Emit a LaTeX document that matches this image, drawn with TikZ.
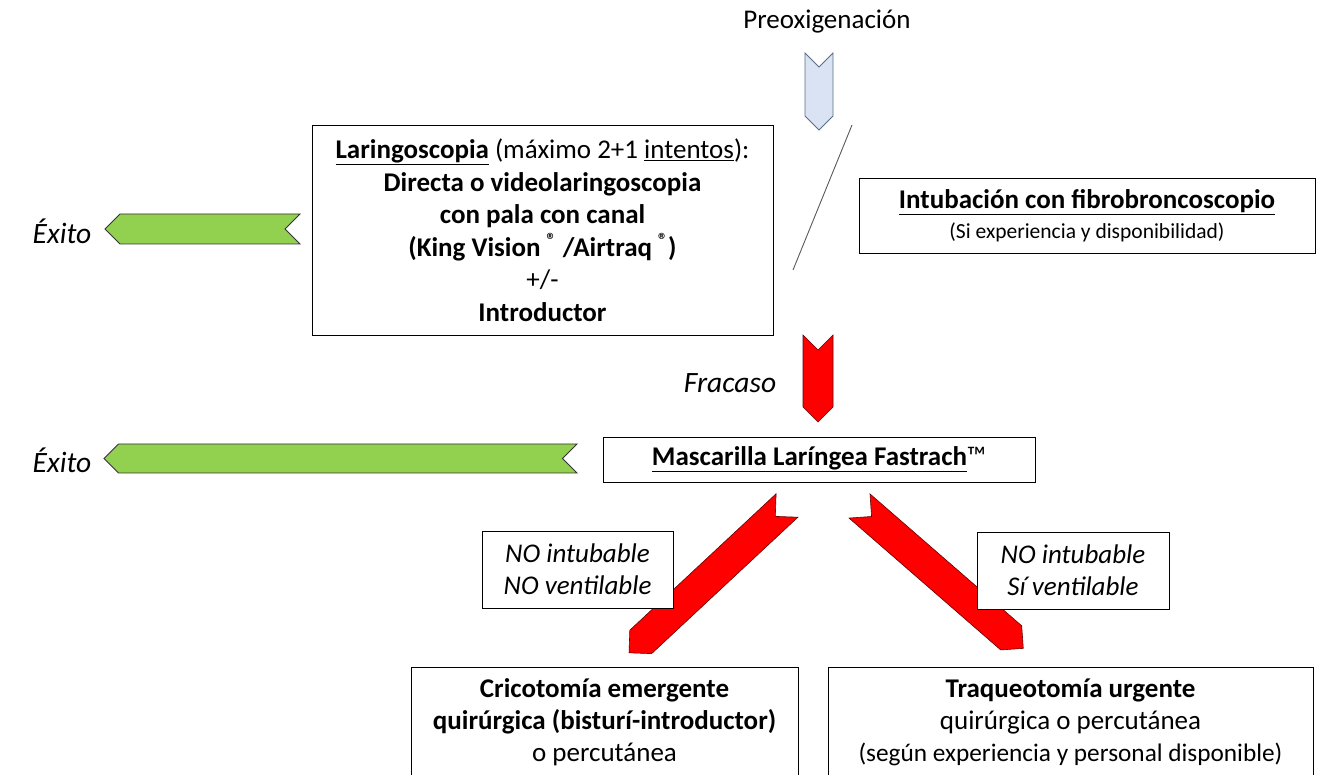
\documentclass[tikz,border=0pt]{standalone}
\usepackage{fontspec}
\setmainfont{Carlito}
\usetikzlibrary{positioning}
\definecolor{okgreen}{HTML}{92D050}
\definecolor{preblue}{HTML}{DAE3F3}
\definecolor{preedge}{HTML}{5A6E86}
% notched block arrow: style, tail centre, angle, length, half width
\newcommand{\blockarrow}[5]{%
  \draw[#1,shift={(#2)},rotate=#3](0,-#5)--(#5,0)--(0,#5)--(#4-#5,#5)--(#4,0)--(#4-#5,-#5)--cycle;}

\begin{document}
\begin{tikzpicture}[x=1pt,y=-1pt,
every node/.style={font=\fontsize{27}{32.5}\selectfont},
box/.style={draw,fill=white,line width=.8pt,align=center,inner sep=0pt},
lbl/.style={align=center,inner sep=0pt},
note/.style={lbl,font=\fontsize{29.5}{32}\selectfont\itshape},
fail/.style={fill=red,draw=red!40!black,line width=.6pt},
ok/.style={fill=okgreen,draw=black!80,line width=.8pt},
pre/.style={fill=preblue,draw=preedge,line width=.8pt}]
\useasboundingbox (0,0) rectangle (1318,775);
\clip (0,0) rectangle (1318,775);

% block arrows
\blockarrow{pre}{819,53}{-90}{77}{14}
\blockarrow{fail}{818,335}{-90}{87}{15}
\blockarrow{ok}{300,229}{180}{195}{15}
\blockarrow{ok}{577,458.5}{180}{473}{14.5}
\blockarrow{fail}{787,505.5}{223}{216}{16}
\blockarrow{fail}{859.5,506}{-41}{217}{16}

\coordinate (slashtop) at (852,125);
\coordinate (slashbot) at (793,270);
\draw[black!65,line width=.9pt](slashtop)--(slashbot);

\node[lbl](preox) at (827,22){Preoxigenación};
\node[box,minimum width=461,minimum height=210](laringo) at (542.5,230){%
\underline{\textbf{Laringoscopia}} (máximo 2+1 \underline{intentos}):\\
\textbf{Directa o videolaringoscopia}\\
\textbf{con pala con canal}\\
\textbf{(King Vision \textsuperscript{®} /Airtraq \textsuperscript{®})}\\
+/-\\
\textbf{Introductor}};
\node[box,minimum width=456,minimum height=75,font=\fontsize{27}{30}\selectfont](fibro) at (1087,215.5){%
\underline{\textbf{Intubación con fibrobroncoscopio}}\\
{\fontsize{21.5}{30}\selectfont (Si experiencia y disponibilidad)}};
\node[note](exito1) at (62,231){Éxito};
\node[note](fracaso) at (730,383){Fracaso};
\node[box,minimum width=432,minimum height=45](fastrach) at (819,459.5){%
\underline{\textbf{Mascarilla Laríngea Fastrach}}™};
\node[note](exito2) at (62,460){Éxito};

\node[box,minimum width=191,minimum height=77,font=\fontsize{27}{32}\selectfont\itshape](nono) at (577.5,569.5){NO intubable\\NO ventilable};
\node[box,minimum width=192,minimum height=77,font=\fontsize{27}{32}\selectfont\itshape](nosi) at (1073,570.5){NO intubable\\Sí ventilable};

\node[box,minimum width=387,minimum height=110,font=\fontsize{27}{32}\selectfont](crico) at (604.5,722){%
\textbf{Cricotomía emergente}\\
\textbf{quirúrgica (bisturí-introductor)}\\
o percutánea};
\node[box,minimum width=485,minimum height=110,font=\fontsize{27}{32}\selectfont](traqueo) at (1070.5,722){%
\textbf{Traqueotomía urgente}\\
quirúrgica o percutánea\\
{\fontsize{25.3}{32}\selectfont(según experiencia y personal disponible)}};
\end{tikzpicture}
\end{document}
